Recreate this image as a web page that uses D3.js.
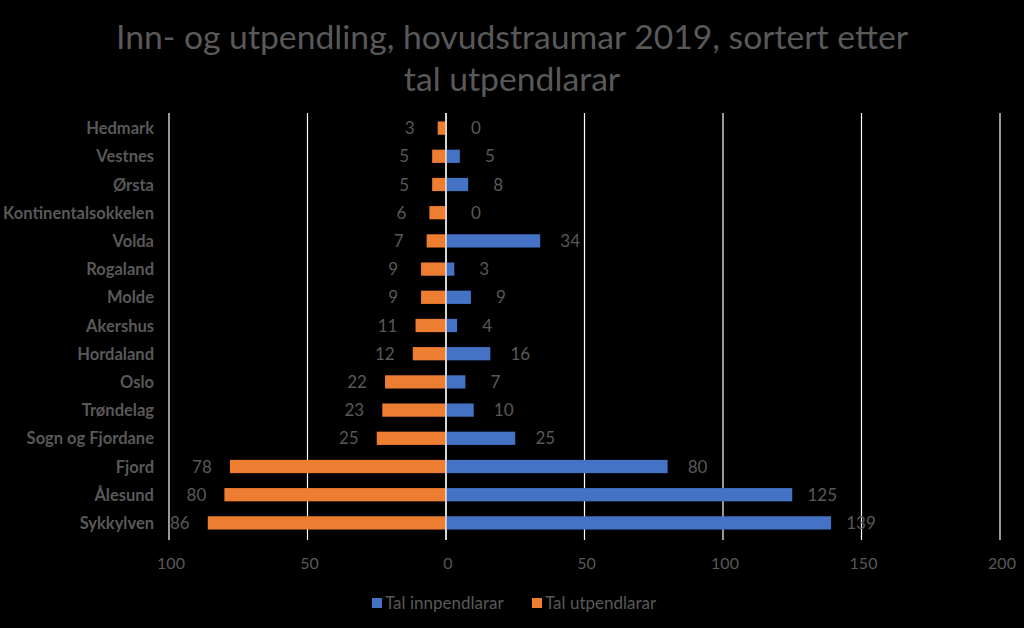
<!DOCTYPE html>
<html><head><meta charset="utf-8">
<script src="https://cdn.jsdelivr.net/npm/d3@7"></script>
<style>body{margin:0;background:#000}svg{display:block}</style>
</head><body>
<svg id="c" width="1024" height="628"></svg>
<script>
const categories = ["Hedmark","Vestnes","Ørsta","Kontinentalsokkelen","Volda","Rogaland","Molde","Akershus","Hordaland","Oslo","Trøndelag","Sogn og Fjordane","Fjord","Ålesund","Sykkylven"];
const innpendlarar = [0,5,8,0,34,3,9,4,16,7,10,25,80,125,139];
const utpendlarar = [3,5,5,6,7,9,9,11,12,22,23,25,78,80,86];
const ticks = [-100,-50,0,50,100,150,200];
const tickLabels = ["100","50","0","50","100","150","200"];
const titleLines = ["Inn- og utpendling, hovudstraumar 2019, sortert etter","tal utpendlarar"];
const seriesNames = ["Tal innpendlarar","Tal utpendlarar"];
const colors = ["#4472C4","#ED7D31"];

const svg = d3.select("#c");
const W = 1024, H = 628;
const grey = "#595959";
const font = "Lato, 'Open Sans', sans-serif";
svg.append("rect").attr("width",W).attr("height",H).attr("fill","#000");

const x = d3.scaleLinear().domain([-100,200]).range([169,1000]);
const y = d3.scaleBand().domain(categories).range([114,537]).paddingInner(0.53).paddingOuter(0.265);

// title
svg.append("g").selectAll("text").data(titleLines).join("text")
  .attr("x",512).attr("y",(d,i)=>49+i*42).attr("text-anchor","middle")
  .attr("fill",grey).attr("font-family",font).attr("font-size",33.7).text(d=>d);

// gridlines
svg.append("g").selectAll("line").data(ticks).join("line")
  .attr("x1",d=>x(d)).attr("x2",d=>x(d)).attr("y1",113).attr("y2",540)
  .attr("stroke","#fff").attr("stroke-width",1.2);

// x tick labels
svg.append("g").selectAll("text").data(ticks).join("text")
  .attr("x",d=>x(d)+2).attr("y",569).attr("text-anchor","middle")
  .attr("fill",grey).attr("font-family",font).attr("font-size",16)
  .text((d,i)=>tickLabels[i]);

// category labels
svg.append("g").selectAll("text").data(categories).join("text")
  .attr("x",154).attr("y",d=>y(d)+y.bandwidth()/2+6).attr("text-anchor","end")
  .attr("fill",grey).attr("font-family",font).attr("font-size",16.5).attr("font-weight","bold")
  .text(d=>d);

// bars
const rows = categories.map((c,i)=>({c, inn:innpendlarar[i], ut:utpendlarar[i]}));
svg.append("g").selectAll("rect").data(rows).join("rect")
  .attr("x",d=>x(-d.ut)).attr("width",d=>x(0)-x(-d.ut))
  .attr("y",d=>y(d.c)).attr("height",y.bandwidth()).attr("fill",colors[1]);
svg.append("g").selectAll("rect").data(rows).join("rect")
  .attr("x",x(0)).attr("width",d=>x(d.inn)-x(0))
  .attr("y",d=>y(d.c)).attr("height",y.bandwidth()).attr("fill",colors[0]);

// zero line on top
svg.append("line").attr("x1",x(0)).attr("x2",x(0)).attr("y1",113).attr("y2",540)
  .attr("stroke","#fff").attr("stroke-width",1.2);

// data labels
svg.append("g").selectAll("text").data(rows).join("text")
  .attr("x",d=>x(-d.ut)-28).attr("y",d=>y(d.c)+y.bandwidth()/2+6).attr("text-anchor","middle")
  .attr("fill",grey).attr("font-family",font).attr("font-size",17).text(d=>d.ut);
svg.append("g").selectAll("text").data(rows).join("text")
  .attr("x",d=>x(d.inn)+30).attr("y",d=>y(d.c)+y.bandwidth()/2+6).attr("text-anchor","middle")
  .attr("fill",grey).attr("font-family",font).attr("font-size",17).text(d=>d.inn);

// legend
const lg = svg.append("g");
const lx = [372,532];
seriesNames.forEach((n,i)=>{
  lg.append("rect").attr("x",lx[i]).attr("y",598).attr("width",10).attr("height",10).attr("fill",colors[i]);
  lg.append("text").attr("x",lx[i]+13).attr("y",609).attr("fill",grey)
    .attr("font-family",font).attr("font-size",17).text(n);
});
</script>
</body></html>
